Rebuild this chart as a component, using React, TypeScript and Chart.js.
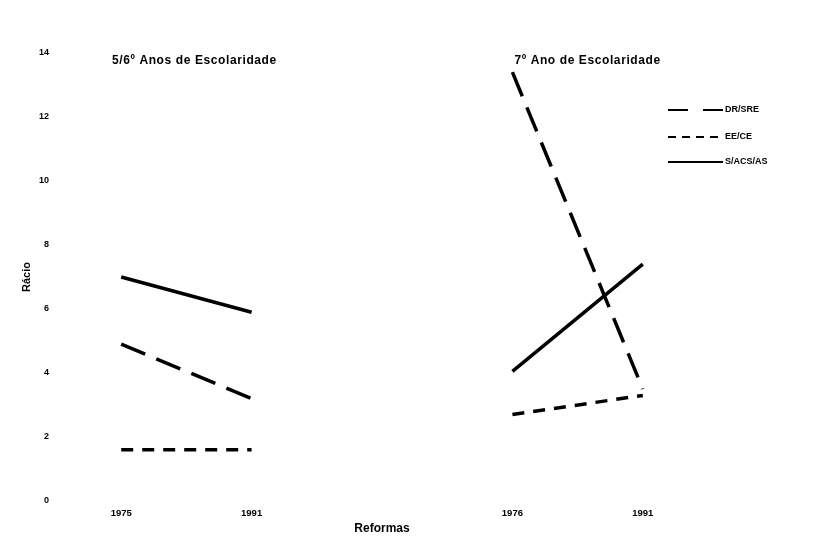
import { useEffect, useRef } from 'react';
import { Chart, registerables } from 'chart.js';

Chart.register(...registerables);

const categories = ['1975', '1991', '', '1976', '1991'];
const seriesNames = ['DR/SRE', 'EE/CE', 'S/ACS/AS'];
const drSre = [4.9, 3.2, null, 13.4, 3.5];
const eeCe = [1.6, 1.6, null, 2.7, 3.3];
const sAcs = [7.0, 5.9, null, 4.05, 7.4];
const panelTitles = ['5/6º Anos de Escolaridade', '7º Ano de Escolaridade'];
const xTitle = 'Reformas';
const yTitle = 'Rácio';

const FONT = '"Liberation Sans", Arial, sans-serif';
const dashes = [[26, 12], [12, 9], []];
const legendDashes = [[20, 15], [8, 6], []];

const annotPlugin = {
  id: 'annot',
  afterDraw(chart: any) {
    const { ctx, chartArea, scales } = chart;
    const xs = scales.x;
    const ys = scales.y;
    ctx.save();
    ctx.fillStyle = '#000';
    ctx.font = `bold 12px ${FONT}`;
    try { (ctx as any).letterSpacing = '0.6px'; } catch (e) {}
    ctx.textAlign = 'center';
    ctx.textBaseline = 'middle';
    const ty = ys.getPixelForValue(14) + 8;
    ctx.fillText(panelTitles[0], xs.getPixelForValue(0.5) + 8, ty);
    ctx.fillText(panelTitles[1], xs.getPixelForValue(3.5) + 10, ty);
    try { (ctx as any).letterSpacing = '0px'; } catch (e) {}

    // legend
    ctx.font = `bold 9px ${FONT}`;
    ctx.textAlign = 'left';
    const rowOffsets = [57, 84, 109];
    chart.data.datasets.forEach((ds: any, i: number) => {
      const yy = chartArea.top + rowOffsets[i];
      const x0 = chartArea.right - 40;
      const x1 = chartArea.right + 15;
      ctx.strokeStyle = '#000';
      ctx.lineWidth = 2;
      ctx.setLineDash(legendDashes[i]);
      ctx.beginPath();
      ctx.moveTo(x0, yy);
      ctx.lineTo(x1, yy);
      ctx.stroke();
      ctx.setLineDash([]);
      ctx.fillText(ds.label, x1 + 2, yy);
    });
    ctx.restore();
  },
};

export default function App() {
  const ref = useRef<HTMLCanvasElement>(null);
  useEffect(() => {
    if (!ref.current) return;
    const series = [drSre, eeCe, sAcs];
    const chart = new Chart(ref.current, {
      type: 'line',
      data: {
        labels: categories,
        datasets: series.map((d, i) => ({
          label: seriesNames[i],
          data: d,
          borderColor: '#000',
          backgroundColor: '#000',
          borderWidth: 3.5,
          borderDash: dashes[i],
          borderCapStyle: 'butt',
          pointRadius: 0,
          fill: false,
          tension: 0,
          spanGaps: false,
        })),
      },
      options: {
        animation: false,
        responsive: false,
        maintainAspectRatio: false,
        layout: { padding: { top: 45, right: 102, left: 0, bottom: 0 } },
        plugins: { legend: { display: false }, tooltip: { enabled: false } },
        scales: {
          x: {
            type: 'category',
            offset: true,
            grid: { display: false, drawTicks: false },
            border: { display: false },
            ticks: {
              autoSkip: false,
              maxRotation: 0,
              padding: 7,
              color: '#000',
              font: { family: FONT, size: 9.5, weight: 'bold' },
            },
            title: {
              display: true,
              text: xTitle,
              color: '#000',
              padding: { top: 0, bottom: 1 },
              font: { family: FONT, size: 12, weight: 'bold' },
            },
            afterFit: (s: any) => { s.height = 36; },
          },
          y: {
            min: 0,
            max: 14,
            grid: { display: false, drawTicks: false },
            border: { display: false },
            ticks: {
              stepSize: 2,
              padding: 7,
              color: '#000',
              font: { family: FONT, size: 9, weight: 'bold' },
            },
            title: {
              display: true,
              text: yTitle,
              color: '#000',
              padding: { top: 12, bottom: 0 },
              font: { family: FONT, size: 11, weight: 'bold' },
            },
            afterFit: (s: any) => { s.width = 48; },
          },
        },
      } as any,
      plugins: [annotPlugin],
    });
    return () => chart.destroy();
  }, []);
  return (
    <div style={{ width: 802, height: 529 }}>
      <canvas ref={ref} width={802} height={529} style={{ display: 'block' }} />
    </div>
  );
}
